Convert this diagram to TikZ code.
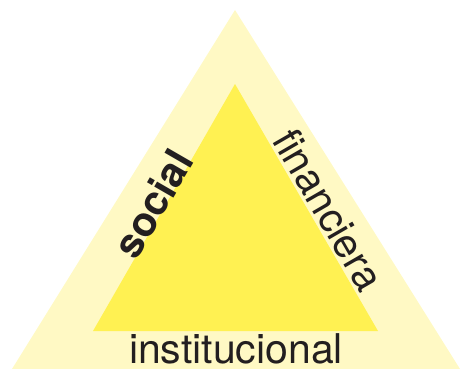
\documentclass[tikz,border=0pt]{standalone}
\usepackage{fontspec}
\setmainfont{TeX Gyre Heros}
\definecolor{paleY}{RGB}{255,249,196}
\definecolor{brightY}{RGB}{255,241,82}
\definecolor{txt}{RGB}{35,31,32}
\begin{document}
\begin{tikzpicture}[x=1pt,y=-1pt,
  lbl/.style={inner sep=0pt,anchor=base,text=txt,font=\fontsize{41}{41}\selectfont}]
\useasboundingbox (0,0) rectangle (460,369);
\fill[paleY] (235,10) -- (12,369) -- (460,369) -- cycle;
\fill[brightY] (235,84) -- (93,331) -- (378,331) -- cycle;
\node[lbl] (inst) at (236,363) {institucional};
\node[lbl,font=\fontsize{41}{41}\selectfont\bfseries,rotate=60] (soc) at (166,211) {social};
\node[lbl,rotate=-60] (fin) at (316,217) {financiera};
\end{tikzpicture}
\end{document}
